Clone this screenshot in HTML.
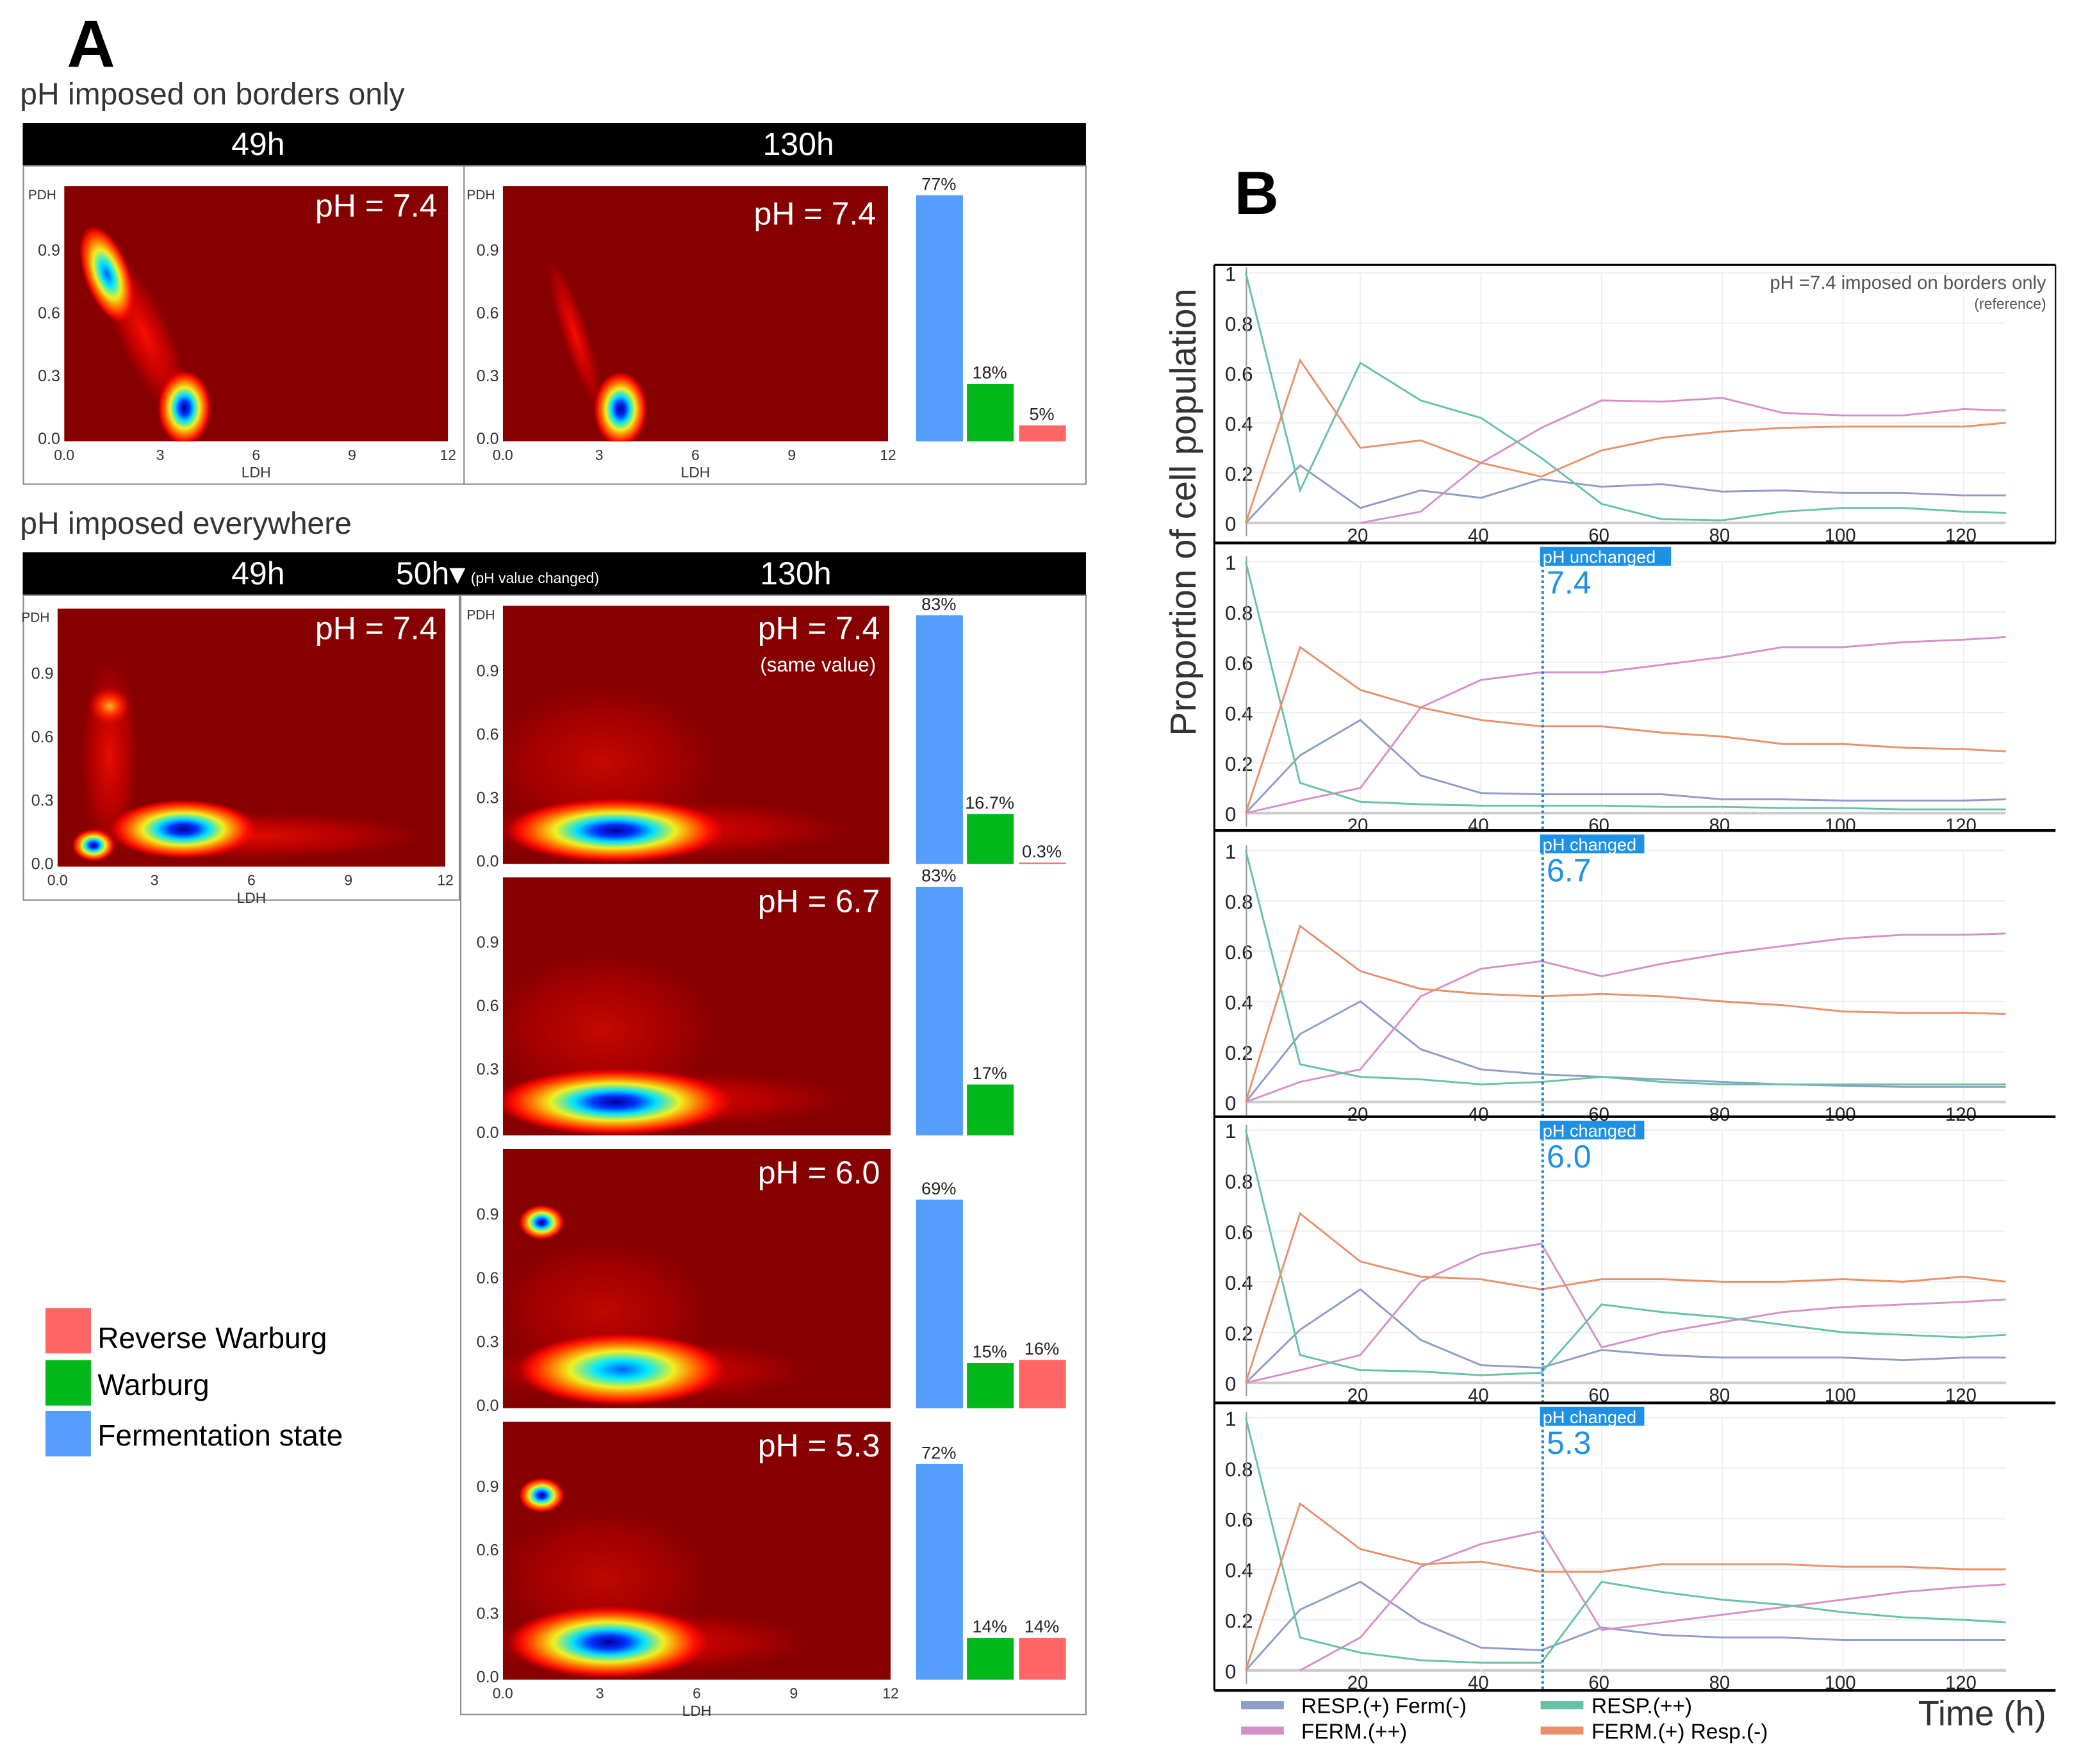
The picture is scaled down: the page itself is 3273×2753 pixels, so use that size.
<!DOCTYPE html>
<html><head><meta charset="utf-8"><style>
html,body{margin:0;padding:0;background:#fff}
svg{display:block}
text{font-family:"Liberation Sans",sans-serif}
</style></head><body>
<svg id="fig" xmlns="http://www.w3.org/2000/svg" viewBox="0 0 1568 1319" width="3273" height="2753" preserveAspectRatio="none">
<defs>
<radialGradient id="jet"><stop offset="0" stop-color="#00008f"/><stop offset="0.18" stop-color="#0030ff"/><stop offset="0.35" stop-color="#00e0ff"/><stop offset="0.55" stop-color="#f0f020"/><stop offset="0.72" stop-color="#ff7000"/><stop offset="0.86" stop-color="#ff1000"/><stop offset="1" stop-color="#ff0000" stop-opacity="0"/></radialGradient>
<radialGradient id="jetc"><stop offset="0" stop-color="#0060ff"/><stop offset="0.25" stop-color="#00e8ff"/><stop offset="0.5" stop-color="#f0f020"/><stop offset="0.7" stop-color="#ff7000"/><stop offset="0.86" stop-color="#ff1000"/><stop offset="1" stop-color="#ff0000" stop-opacity="0"/></radialGradient>
<radialGradient id="warm"><stop offset="0" stop-color="#ffb020"/><stop offset="0.45" stop-color="#ff3000"/><stop offset="1" stop-color="#ff0000" stop-opacity="0"/></radialGradient>
<radialGradient id="haze"><stop offset="0" stop-color="#ff1000" stop-opacity="0.95"/><stop offset="0.6" stop-color="#e00000" stop-opacity="0.6"/><stop offset="1" stop-color="#c00000" stop-opacity="0"/></radialGradient>
<clipPath id="c1"><rect x="48" y="139" width="287" height="191"/></clipPath>
<clipPath id="c2"><rect x="376" y="139" width="288" height="191"/></clipPath>
<clipPath id="c3"><rect x="43" y="455" width="290" height="193"/></clipPath>
<clipPath id="c4"><rect x="376" y="453" width="289" height="193"/></clipPath>
<clipPath id="c5"><rect x="376" y="656" width="290" height="193"/></clipPath>
<clipPath id="c6"><rect x="376" y="859" width="290" height="194"/></clipPath>
<clipPath id="c7"><rect x="376" y="1063" width="290" height="193"/></clipPath>
</defs>

<text x="50" y="50" font-size="50" font-weight="bold">A</text>
<text x="15" y="78" font-size="23" fill="#333">pH imposed on borders only</text>
<rect x="17" y="92" width="795" height="32" fill="#000"/>
<text x="193" y="116" font-size="24" fill="#fff" text-anchor="middle">49h</text>
<text x="597" y="116" font-size="24" fill="#fff" text-anchor="middle">130h</text>
<rect x="17.5" y="124" width="794.5" height="238" fill="none" stroke="#888" stroke-width="1"/>
<line x1="347" y1="124" x2="347" y2="362" stroke="#888"/>

<g clip-path="url(#c1)">
<rect x="48" y="139" width="287" height="191" fill="#870000"/>
<ellipse cx="108" cy="250" rx="20" ry="70" transform="rotate(-25 108 250)" fill="url(#haze)"/>
<ellipse cx="80" cy="205" rx="17" ry="38" transform="rotate(-20 80 205)" fill="url(#jetc)"/>
<ellipse cx="138" cy="305" rx="20" ry="28" fill="url(#jet)"/>
</g>
<g clip-path="url(#c2)">
<rect x="376" y="139" width="288" height="191" fill="#870000"/>
<ellipse cx="430" cy="250" rx="10" ry="60" transform="rotate(-18 430 250)" fill="url(#haze)"/>
<ellipse cx="464" cy="306" rx="20" ry="28" fill="url(#jet)"/>
</g>
<text x="327" y="162" font-size="24" fill="#fff" text-anchor="end">pH = 7.4</text>
<text x="655" y="168" font-size="24" fill="#fff" text-anchor="end">pH = 7.4</text>

<text x="15" y="399" font-size="23" fill="#333">pH imposed everywhere</text>
<rect x="17" y="413" width="795" height="32" fill="#000"/>
<text x="193" y="437" font-size="24" fill="#fff" text-anchor="middle">49h</text>
<text x="296" y="437" font-size="24" fill="#fff">50h▾</text>
<text x="352" y="436" font-size="11" fill="#fff">(pH value changed)</text>
<text x="595" y="437" font-size="24" fill="#fff" text-anchor="middle">130h</text>
<rect x="17.5" y="445" width="326" height="228" fill="none" stroke="#888"/>
<rect x="344.5" y="445" width="467.5" height="837" fill="none" stroke="#888"/>

<g clip-path="url(#c3)">
<rect x="43" y="455" width="290" height="193" fill="#870000"/>
<ellipse cx="190" cy="625" rx="130" ry="18" fill="url(#haze)" opacity="0.8"/>
<ellipse cx="82" cy="565" rx="22" ry="75" fill="url(#haze)" opacity="0.85"/>
<ellipse cx="82" cy="528" rx="16" ry="14" fill="url(#warm)"/>
<ellipse cx="137" cy="620" rx="55" ry="22" fill="url(#jet)"/>
<ellipse cx="70" cy="632" rx="16" ry="12" fill="url(#jet)"/>
</g>
<text x="327" y="478" font-size="24" fill="#fff" text-anchor="end">pH = 7.4</text>

<g clip-path="url(#c4)">
<rect x="376" y="453" width="289" height="193" fill="#870000"/>
<ellipse cx="450" cy="570" rx="90" ry="60" fill="url(#haze)" opacity="0.55"/>
<ellipse cx="490" cy="620" rx="150" ry="22" fill="url(#haze)" opacity="0.8"/>
<ellipse cx="460" cy="621" rx="82" ry="24" fill="url(#jet)"/>
</g>
<text x="658" y="478" font-size="24" fill="#fff" text-anchor="end">pH = 7.4</text>
<text x="655" y="502" font-size="15" fill="#fff" text-anchor="end">(same value)</text>

<g clip-path="url(#c5)">
<rect x="376" y="656" width="290" height="193" fill="#870000"/>
<ellipse cx="450" cy="770" rx="90" ry="60" fill="url(#haze)" opacity="0.55"/>
<ellipse cx="490" cy="822" rx="150" ry="22" fill="url(#haze)" opacity="0.8"/>
<ellipse cx="460" cy="824" rx="88" ry="25" fill="url(#jet)"/>
</g>
<text x="658" y="682" font-size="24" fill="#fff" text-anchor="end">pH = 6.7</text>

<g clip-path="url(#c6)">
<rect x="376" y="859" width="290" height="194" fill="#870000"/>
<ellipse cx="450" cy="980" rx="85" ry="55" fill="url(#haze)" opacity="0.5"/>
<ellipse cx="480" cy="1025" rx="130" ry="24" fill="url(#haze)" opacity="0.8"/>
<ellipse cx="465" cy="1024" rx="78" ry="27" fill="url(#jetc)"/>
<ellipse cx="405" cy="914" rx="17" ry="13" fill="url(#jet)"/>
</g>
<text x="658" y="885" font-size="24" fill="#fff" text-anchor="end">pH = 6.0</text>

<g clip-path="url(#c7)">
<rect x="376" y="1063" width="290" height="193" fill="#870000"/>
<ellipse cx="450" cy="1180" rx="85" ry="55" fill="url(#haze)" opacity="0.5"/>
<ellipse cx="480" cy="1228" rx="130" ry="24" fill="url(#haze)" opacity="0.8"/>
<ellipse cx="455" cy="1228" rx="75" ry="27" fill="url(#jet)"/>
<ellipse cx="405" cy="1118" rx="17" ry="13" fill="url(#jet)"/>
</g>
<text x="658" y="1089" font-size="24" fill="#fff" text-anchor="end">pH = 5.3</text>

<g id="hm-axes" font-size="11" fill="#333"></g>
<g id="bars"></g>

<rect x="34" y="978" width="34" height="34" fill="#ff6666"/>
<rect x="34" y="1017" width="34" height="34" fill="#00b81a"/>
<rect x="34" y="1055" width="34" height="34" fill="#559dff"/>
<text x="73" y="1008" font-size="22">Reverse Warburg</text>
<text x="73" y="1043" font-size="22">Warburg</text>
<text x="73" y="1081" font-size="22">Fermentation state</text>

<text x="923" y="160" font-size="46" font-weight="bold">B</text>
<text transform="translate(894 383) rotate(-90)" font-size="27" fill="#333" text-anchor="middle">Proportion of cell population</text>
<g id="lines"></g>
<line x1="908" y1="198" x2="1537" y2="198" stroke="#000" stroke-width="1.5"/>
<line x1="908" y1="198" x2="908" y2="1264" stroke="#000" stroke-width="1.5"/>
<line x1="1537" y1="198" x2="1537" y2="406" stroke="#000" stroke-width="1"/>
<text x="1530" y="216" font-size="14" fill="#555" text-anchor="end">pH =7.4 imposed on borders only</text>
<text x="1530" y="231" font-size="11" fill="#555" text-anchor="end">(reference)</text>

<g>
<rect x="928" y="1272" width="32" height="6" fill="#8e9cc8"/>
<rect x="928" y="1291" width="32" height="6" fill="#d690c8"/>
<rect x="1152" y="1272" width="32" height="6" fill="#66c2a5"/>
<rect x="1152" y="1291" width="32" height="6" fill="#e8906a"/>
<text x="973" y="1281" font-size="16">RESP.(+) Ferm(-)</text>
<text x="973" y="1300" font-size="16">FERM.(++)</text>
<text x="1190" y="1281" font-size="16">RESP.(++)</text>
<text x="1190" y="1300" font-size="16">FERM.(+) Resp.(-)</text>
</g>
<text x="1530" y="1290" font-size="26" fill="#333" text-anchor="end">Time (h)</text>
</svg>
<script>
const NS="http://www.w3.org/2000/svg";
const times=[1,10,20,30,40,50,60,70,80,90,100,110,120,127];
const xTicks=[20,40,60,80,100,120];
const yTicks=[0,0.2,0.4,0.6,0.8,1];
const yTickLabels=["0","0.2","0.4","0.6","0.8","1"];
const respFerm1=[0,0.23,0.06,0.13,0.10,0.175,0.145,0.155,0.125,0.13,0.12,0.12,0.11,0.11];
const fermPP1=[null,null,0,0.045,0.24,0.38,0.49,0.485,0.50,0.44,0.43,0.43,0.455,0.45];
const respPP1=[1,0.13,0.64,0.49,0.42,0.26,0.076,0.015,0.01,0.045,0.06,0.06,0.045,0.04];
const fermResp1=[0,0.65,0.30,0.33,0.24,0.185,0.29,0.34,0.365,0.38,0.385,0.385,0.385,0.40];
const respFerm2=[0,0.23,0.37,0.15,0.08,0.075,0.075,0.075,0.055,0.055,0.05,0.05,0.05,0.055];
const fermPP2=[0,0.05,0.10,0.42,0.53,0.56,0.56,0.59,0.62,0.66,0.66,0.68,0.69,0.70];
const respPP2=[1,0.12,0.045,0.035,0.03,0.03,0.03,0.025,0.025,0.02,0.02,0.015,0.015,0.015];
const fermResp2=[0,0.66,0.49,0.42,0.37,0.345,0.345,0.32,0.305,0.275,0.275,0.26,0.255,0.245];
const respFerm3=[0,0.27,0.40,0.21,0.13,0.11,0.10,0.09,0.08,0.07,0.065,0.06,0.06,0.06];
const fermPP3=[0,0.08,0.13,0.42,0.53,0.56,0.50,0.55,0.59,0.62,0.65,0.665,0.665,0.67];
const respPP3=[1,0.15,0.10,0.09,0.07,0.08,0.10,0.08,0.07,0.07,0.07,0.07,0.07,0.07];
const fermResp3=[0,0.70,0.52,0.45,0.43,0.42,0.43,0.42,0.40,0.385,0.36,0.355,0.355,0.35];
const respFerm4=[0,0.21,0.37,0.17,0.07,0.06,0.13,0.11,0.10,0.10,0.10,0.09,0.10,0.10];
const fermPP4=[0,0.05,0.11,0.40,0.51,0.55,0.14,0.20,0.24,0.28,0.30,0.31,0.32,0.33];
const respPP4=[1,0.11,0.05,0.045,0.03,0.04,0.31,0.28,0.26,0.23,0.20,0.19,0.18,0.19];
const fermResp4=[0,0.67,0.48,0.42,0.41,0.37,0.41,0.41,0.40,0.40,0.41,0.40,0.42,0.40];
const respFerm5=[0,0.24,0.35,0.19,0.09,0.08,0.17,0.14,0.13,0.13,0.12,0.12,0.12,0.12];
const fermPP5=[null,0,0.13,0.41,0.50,0.55,0.16,0.19,0.22,0.25,0.28,0.31,0.33,0.34];
const respPP5=[1,0.13,0.07,0.04,0.03,0.03,0.35,0.31,0.28,0.26,0.23,0.21,0.20,0.19];
const fermResp5=[0,0.66,0.48,0.42,0.43,0.39,0.39,0.42,0.42,0.42,0.41,0.41,0.40,0.40];
const phValues=[null,"7.4","6.7","6.0","5.3"];
const phTags=[null,"pH unchanged","pH changed","pH changed","pH changed"];
const changeTime=50;
const barsTop=[77,18,5];
const barsRow1=[83,16.7,0.3];
const barsRow2=[83,17,0];
const barsRow3=[69,15,16];
const barsRow4=[72,14,14];
const barLabelsTop=["77%","18%","5%"];
const barLabelsRow1=["83%","16.7%","0.3%"];
const barLabelsRow2=["83%","17%",""];
const barLabelsRow3=["69%","15%","16%"];
const barLabelsRow4=["72%","14%","14%"];

function mk(tag,attrs,parent){const e=document.createElementNS(NS,tag);for(const k in attrs)e.setAttribute(k,attrs[k]);parent.appendChild(e);return e;}
const xS=t=>927+t*4.51;
const panels=[[391,204,198,406],[608,420,406,621],[824,636,621,835],[1034,845,835,1049],[1249,1060,1049,1264]];
const series=[[respFerm1,fermPP1,respPP1,fermResp1],[respFerm2,fermPP2,respPP2,fermResp2],[respFerm3,fermPP3,respPP3,fermResp3],[respFerm4,fermPP4,respPP4,fermResp4],[respFerm5,fermPP5,respPP5,fermResp5]];
const colors=["#8e9cc8","#d690c8","#66c2a5","#e8906a"];
const snames=["line-resp-ferm","line-ferm-pp","line-resp-pp","line-ferm-resp"];
const LG=document.getElementById('lines');
panels.forEach((p,i)=>{
  const [y0,y1,top,bot]=p;const yS=v=>y0-(y0-y1)*v;
  const g=mk('g',{},LG);
  
  
  yTicks.forEach((v,k)=>{
    const l=mk('line',{x1:932,x2:xS(127),y1:yS(v),y2:yS(v),stroke:v===0?'#ccc':'#eee','stroke-width':v===0?2:1},g);
    
    const t=mk('text',{x:916,y:yS(v)+6,'font-size':15,fill:'#222'},g);t.textContent=yTickLabels[k];
    
  });
  xTicks.forEach(v=>{
    const l=mk('line',{x1:xS(v),x2:xS(v),y1:y1,y2:y0,stroke:'#f0f0f0'},g);
    
    const t=mk('text',{x:xS(v)-2,y:y0+14,'font-size':14,fill:'#222','text-anchor':'middle'},g);t.textContent=v;
    
  });
  const ax=mk('line',{x1:932,x2:932,y1:y1-4,y2:y0+10,stroke:'#999'},g);
  
  series[i].forEach((arr,s)=>{
    let d='';let pen=false;
    arr.forEach((v,k)=>{if(v===null){pen=false;return;}d+=(pen?'L':'M')+xS(times[k]).toFixed(1)+' '+yS(v).toFixed(1);pen=true;});
    const pth=mk('path',{d:d,fill:'none',stroke:colors[s],'stroke-width':1.4},g);
    
  });
  if(i>0){
    const vl=mk('line',{x1:xS(changeTime)+1,x2:xS(changeTime)+1,y1:top+8,y2:bot,stroke:'#1e88e5','stroke-width':2,'stroke-dasharray':'2 2'},g);
    
    const w=i===1?98:78;
    const r=mk('rect',{x:xS(changeTime)-1,y:top+3,width:w,height:14,fill:'#1e90e6'},g);
    
    const tt=mk('text',{x:xS(changeTime)+1,y:top+15,'font-size':13,fill:'#fff'},g);tt.textContent=phTags[i];
    
    const pv=mk('text',{x:xS(changeTime)+4,y:top+38,'font-size':24,fill:'#1e90e6'},g);pv.textContent=phValues[i];
    
  }
  const sep=mk('line',{x1:908,x2:1537,y1:bot,y2:bot,stroke:'#000','stroke-width':2},g);
  
});

const BG=document.getElementById('bars');
const barColors=["#559dff","#00b81a","#ff6666"];
const barX=[685,723,762];
const barGroups=[[barsTop,barLabelsTop,330,2.39],[barsRow1,barLabelsRow1,646,2.24],[barsRow2,barLabelsRow2,849,2.24],[barsRow3,barLabelsRow3,1053,2.26],[barsRow4,barLabelsRow4,1256,2.24]];
barGroups.forEach((bg,gi)=>{
  const [vals,labs,base,sc]=bg;
  vals.forEach((v,k)=>{
    const h=Math.max(v*sc,v>0?1:0);
    if(h>0){const r=mk('rect',{x:barX[k],y:base-h,width:35,height:h,fill:barColors[k]},BG);
    }
    if(labs[k]){const t=mk('text',{x:barX[k]+17,y:base-h-4,'font-size':13,fill:'#222','text-anchor':'middle'},BG);t.textContent=labs[k];
    }
  });
});

const HA=document.getElementById('hm-axes');
const pdhTicks=["0.9","0.6","0.3","0.0"];
const ldhTicks=["0.0","3","6","9","12"];
function hmAxes(x0,yTop,h,w,showX,showPDH){
  pdhTicks.forEach((s,k)=>{const v=0.9-0.3*k;const y=yTop+h-(v/1.22)*h-2;
    const t=mk('text',{x:x0-3,y:y+4,'text-anchor':'end','font-size':12},HA);t.textContent=s;
    });
  if(showPDH){const t=mk('text',{x:x0-27,y:yTop+10,'font-size':10},HA);t.textContent='PDH';
    }
  if(showX){ldhTicks.forEach((s,k)=>{const t=mk('text',{x:x0+k*w/4,y:yTop+h+14,'text-anchor':'middle','font-size':11},HA);t.textContent=s;
    });
    const t=mk('text',{x:x0+w/2,y:yTop+h+27,'text-anchor':'middle','font-size':11},HA);t.textContent='LDH';
    }
}
hmAxes(48,139,191,287,true,true);
hmAxes(376,139,191,288,true,true);
hmAxes(43,455,193,290,true,true);
hmAxes(376,453,193,289,false,true);
hmAxes(376,656,193,290,false,false);
hmAxes(376,859,194,290,false,false);
hmAxes(376,1063,193,290,true,false);
</script>
</body></html>
